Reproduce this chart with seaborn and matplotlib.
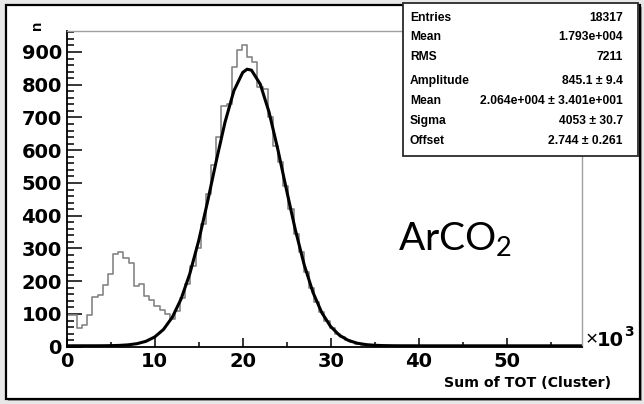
import numpy as np
import pandas as pd
import matplotlib
matplotlib.use("Agg")
import matplotlib.pyplot as plt
import seaborn as sns
from matplotlib.patches import Rectangle
from matplotlib.ticker import MultipleLocator

# ---------------- data ----------------
bin_width_k = 0.586  # bin width in units of 10^3
counts = [96, 96, 56, 66, 96, 152, 157, 187, 222, 283,
          288, 270, 255, 185, 192, 156, 143, 124, 112, 100,
          85, 110, 148, 190, 245, 300, 375, 465, 555, 640,
          735, 742, 855, 906, 920, 884, 869, 792, 788, 700,
          612, 565, 490, 420, 345, 290, 228, 180, 138, 105,
          78, 57, 40, 29, 20, 13, 9, 6, 4, 3,
          2, 2, 1, 1, 1, 0, 0, 0, 0, 0,
          0, 0, 0, 0, 0, 0, 0, 0, 0, 0,
          0, 0, 0, 0, 0, 0, 0, 0, 0, 0,
          0, 0, 0, 0, 0, 0, 0, 0, 0, 0]

fit_x = [0, 1, 2, 3, 4, 5, 6, 7, 8, 9, 10, 11, 12, 13, 14, 15, 16, 17, 18, 19,
         20, 20.5, 21, 22, 23, 24, 25, 26, 27, 28, 29, 30, 31, 32, 33, 34, 35,
         36, 37, 38, 39, 40, 45, 50, 55, 58.6]
fit_y = [2.7, 2.8, 2.8, 2.8, 2.9, 3.2, 4.0, 5.7, 9.3, 16.4, 29.7, 52.7, 89.9,
         145.7, 223.6, 323.6, 441.6, 567.4, 686.3, 781.4, 837.3, 847.4, 844.5,
         801.6, 716.1, 602.1, 476.6, 355.2, 249.4, 165.2, 103.5, 61.5, 34.9,
         19.4, 10.8, 6.4, 4.3, 3.4, 3.0, 2.8, 2.8, 2.7, 2.7, 2.7, 2.7, 2.7]

x_ticks = [0, 10, 20, 30, 40, 50]
y_ticks = [0, 100, 200, 300, 400, 500, 600, 700, 800, 900]

stat_labels = ["Entries", "Mean", "RMS"]
stat_values = ["18317", "1.793e+004", "7211"]
fit_labels = ["Amplitude", "Mean", "Sigma", "Offset"]
fit_values = ["845.1 \u00b1 9.4", "2.064e+004 \u00b1 3.401e+001",
              "4053 \u00b1 30.7", "2.744 \u00b1 0.261"]

# ---------------- style ----------------
sns.set_theme(style="white")
plt.rcParams['font.family'] = ['Liberation Sans', 'DejaVu Sans']
plt.rcParams['text.color'] = 'black'
plt.rcParams['mathtext.fontset'] = 'custom'
plt.rcParams['mathtext.rm'] = 'Lato'
plt.rcParams['mathtext.it'] = 'Lato'

W, H = 644, 404
def fx(px):
    return px / W
def fy(py):
    return 1 - py / H

fig = plt.figure(figsize=(6.44, 4.04), dpi=100, facecolor='#e8e8e8')
# shadow + outer white frame
fig.patches.append(Rectangle((fx(8), fy(401)), fx(642) - fx(8), fy(7) - fy(401),
                             transform=fig.transFigure, facecolor='#9c9c9c',
                             edgecolor='none', zorder=-3))
fig.patches.append(Rectangle((fx(6), fy(399)), fx(640) - fx(6), fy(5) - fy(399),
                             transform=fig.transFigure, facecolor='white',
                             edgecolor='black', linewidth=1.6, zorder=-2))

ax = fig.add_axes([fx(66.7), fy(346.7), fx(582.3) - fx(66.7), fy(30.7) - fy(346.7)])
ax.set_facecolor('white')

n_bins = len(counts)
centers = (np.arange(n_bins) + 0.5) * bin_width_k
df = pd.DataFrame({"tot": centers, "n": counts})
sns.histplot(data=df, x="tot", weights="n", binwidth=bin_width_k,
             binrange=(0, n_bins * bin_width_k), element="step",
             fill=False, color="#858585", linewidth=1.2, ax=ax)
sns.lineplot(x=fit_x, y=fit_y, color='black', linewidth=2.2, ax=ax)

ax.set_xlim(0, 58.6)
ax.set_ylim(0, 965)
ax.set_xlabel("")
ax.set_ylabel("")
ax.set_xticks(x_ticks)
ax.set_yticks(y_ticks)
ax.xaxis.set_minor_locator(MultipleLocator(5))
ax.yaxis.set_minor_locator(MultipleLocator(20))
ax.tick_params(axis='x', which='major', direction='in', length=6.5, width=1.1,
               pad=4, labelsize=14, color='black')
ax.tick_params(axis='x', which='minor', direction='in', length=3.3, width=1.1, color='black')
ax.tick_params(axis='y', which='major', direction='in', length=10.5, width=1.1,
               pad=3.5, labelsize=14, color='black')
ax.tick_params(axis='y', which='minor', direction='in', length=5, width=1.1, color='black')
ax.xaxis.set_ticks_position('bottom')
ax.yaxis.set_ticks_position('left')
for lab in ax.get_xticklabels() + ax.get_yticklabels():
    lab.set_fontweight('bold')
    lab.set_family('DejaVu Sans')
    lab.set_color('black')

for s in ['left', 'bottom']:
    ax.spines[s].set_color('black')
    ax.spines[s].set_linewidth(1.3)
for s in ['top', 'right']:
    ax.spines[s].set_color('#a0a0a0')
    ax.spines[s].set_linewidth(1.0)

# axis texts
fig.text(fx(37), fy(25), "n", rotation=90, fontweight='bold', fontsize=11,
         ha='center', va='center', color='black')
fig.text(fx(586), fy(340), "\u00d7", fontsize=15, ha='left', va='center', color='black')
fig.text(fx(597), fy(340), "10", fontsize=14, fontweight='bold', family='DejaVu Sans',
         ha='left', va='center', color='black')
fig.text(fx(624), fy(332), "3", fontsize=10, fontweight='bold', family='DejaVu Sans',
         ha='left', va='center', color='black')
fig.text(fx(611), fy(383), "Sum of TOT (Cluster)", fontsize=10.2, fontweight='bold',
         family='DejaVu Sans', ha='right', va='center', color='black')

# big annotation
fig.text(fx(398), fy(250), "ArCO$_2$", fontsize=28, family='Lato',
         ha='left', va='baseline', color='black')

# statistics box
fig.patches.append(Rectangle((fx(403), fy(156)), fx(638) - fx(403), fy(3) - fy(156),
                             transform=fig.transFigure, facecolor='white',
                             edgecolor='#2a2a2a', linewidth=1.3, zorder=5))
rows_y = [18, 37, 57, 81, 101, 121, 141]
labels = stat_labels + fit_labels
values = stat_values + fit_values
for yy, lab, val in zip(rows_y, labels, values):
    fig.text(fx(410), fy(yy), lab, fontsize=8.7, fontweight='bold', ha='left',
             va='center', zorder=6, color='black')
    fig.text(fx(623), fy(yy), val, fontsize=8.7, fontweight='bold', ha='right',
             va='center', zorder=6, color='black')

fig.savefig("out.png", dpi=100, facecolor=fig.get_facecolor())
